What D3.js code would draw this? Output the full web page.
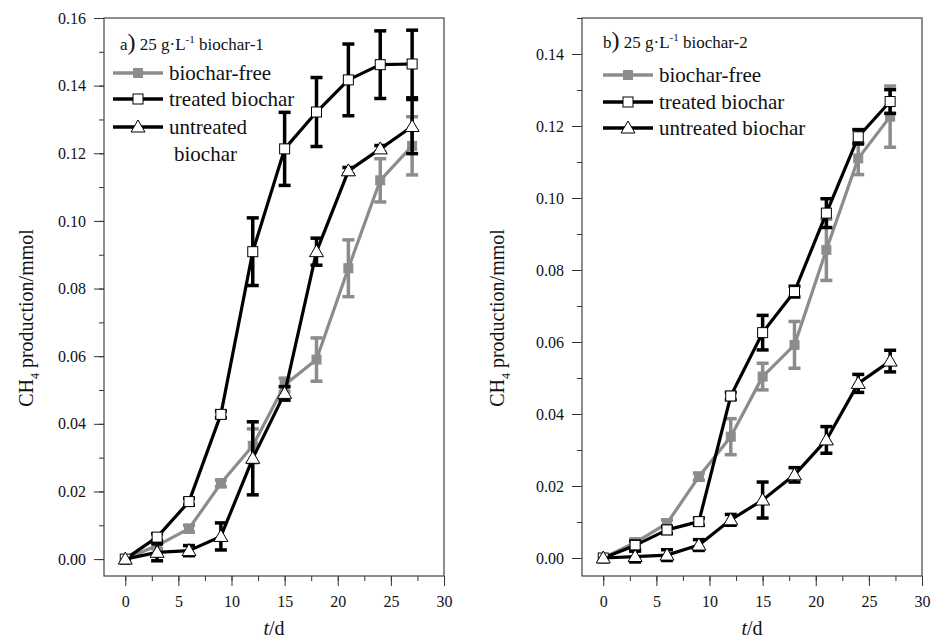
<!DOCTYPE html>
<html>
<head>
<meta charset="utf-8">
<script src="https://cdn.jsdelivr.net/npm/d3@7"></script>
<style>
  body { margin: 0; background: #fff; }
  svg text { font-family: "Liberation Serif", "Times New Roman", serif; fill: #111; }
</style>
</head>
<body>
<div id="chart"></div>
<script>
// sampling days
const days = [0, 3, 6, 9, 12, 15, 18, 21, 24, 27];

// panel a) biochar-1
const aFree = [0, 0.004, 0.009, 0.0224, 0.0335, 0.0515, 0.059, 0.086, 0.112, 0.1222];
const aFreeErr = [0, 0.001, 0.001, 0.001, 0.005, 0.002, 0.0064, 0.0084, 0.0064, 0.0086];
const aTreated = [0, 0.0065, 0.017, 0.0428, 0.0909, 0.1213, 0.1322, 0.1417, 0.1462, 0.1464];
const aTreatedErr = [0, 0.001, 0.001, 0.001, 0.010, 0.0108, 0.0102, 0.0106, 0.010, 0.010];
const aUntreated = [0, 0.002, 0.0025, 0.0067, 0.0298, 0.049, 0.0909, 0.1148, 0.1213, 0.1279];
const aUntreatedErr = [0, 0.0025, 0.0015, 0.004, 0.0108, 0.002, 0.004, 0.001, 0.001, 0.008];

// panel b) biochar-2
const bFree = [0, 0.0043, 0.0096, 0.0226, 0.0337, 0.0504, 0.0592, 0.0856, 0.111, 0.1226];
const bFreeErr = [0, 0.001, 0.001, 0.001, 0.005, 0.0037, 0.0065, 0.0085, 0.0045, 0.0085];
const bTreated = [0, 0.0035, 0.0078, 0.0101, 0.045, 0.0626, 0.074, 0.0958, 0.117, 0.1268];
const bTreatedErr = [0, 0.0012, 0.001, 0.001, 0.001, 0.0048, 0.0015, 0.004, 0.002, 0.0033];
const bUntreated = [0, 0.0004, 0.0008, 0.0036, 0.0106, 0.0161, 0.0231, 0.0328, 0.0485, 0.0547];
const bUntreatedErr = [0, 0.0015, 0.0015, 0.0015, 0.0015, 0.005, 0.002, 0.0037, 0.0025, 0.003];

const seriesNames = ['biochar-free', 'treated biochar', 'untreated biochar'];
const xTicks = [0, 5, 10, 15, 20, 25, 30];
const aYTicks = [0, 0.02, 0.04, 0.06, 0.08, 0.10, 0.12, 0.14, 0.16];
const bYTicks = [0, 0.02, 0.04, 0.06, 0.08, 0.10, 0.12, 0.14];

const grey = '#8c8c8c';
const serif = '"Liberation Serif", "Times New Roman", Times, serif';

const svg = d3.select('#chart').append('svg')
    .attr('width', 933)
    .attr('height', 639)
    .attr('font-family', serif);

function drawPanel(opt) {
    const x = d3.scaleLinear().domain([-2, 30]).range([opt.left, opt.right]);
    const y = d3.scaleLinear().domain([-0.005, opt.yMax]).range([576, 18]);
    const g = svg.append('g');

    // minor ticks
    const xMinor = d3.range(0, 30.01, 2.5);
    const yMinor = d3.range(0, opt.yMax + 0.0001, 0.01);
    g.append('g')
        .attr('transform', `translate(0,576)`)
        .call(d3.axisBottom(x).tickValues(xMinor).tickSize(5).tickFormat(''))
        .call(a => a.select('.domain').remove());
    g.append('g')
        .attr('transform', `translate(${opt.left},0)`)
        .call(d3.axisLeft(y).tickValues(yMinor).tickSize(5).tickFormat(''))
        .call(a => a.select('.domain').remove());

    // major ticks
    const xa = g.append('g')
        .attr('transform', `translate(0,576)`)
        .call(d3.axisBottom(x).tickValues(xTicks).tickSize(10).tickPadding(10));
    xa.select('.domain').remove();
    xa.attr('font-family', serif).attr('font-size', 16);

    const ya = g.append('g')
        .attr('transform', `translate(${opt.left},0)`)
        .call(d3.axisLeft(y).tickValues(opt.yTicks).tickSize(10).tickPadding(8).tickFormat(d3.format('.2f')));
    ya.select('.domain').remove();
    ya.attr('font-family', serif).attr('font-size', 16);
    g.selectAll('.tick line').attr('stroke', '#333');

    // frame
    g.append('rect')
        .attr('x', opt.left).attr('y', 18)
        .attr('width', opt.right - opt.left).attr('height', 558)
        .attr('fill', 'none').attr('stroke', '#444').attr('stroke-width', 1.2);

    // axis titles
    const yl = g.append('text')
        .attr('transform', `translate(${opt.yLabelX},318) rotate(-90)`)
        .attr('text-anchor', 'middle')
        .style('font-size', '20px');
    yl.append('tspan').text('CH');
    yl.append('tspan').attr('dy', 6).style('font-size', '12px').text('4');
    yl.append('tspan').attr('dy', -6).text(' production/mmol');

    const xl = g.append('text')
        .attr('x', (opt.left + opt.right) / 2)
        .attr('y', 635)
        .attr('text-anchor', 'middle')
        .style('font-size', '20px');
    xl.append('tspan').style('font-style', 'italic').text('t');
    xl.append('tspan').text('/d');

    const line = d3.line().x((d, i) => x(days[i])).y(d => y(d));

    const series = [
        { vals: opt.free, err: opt.freeErr, color: grey, marker: 'filled' },
        { vals: opt.treated, err: opt.treatedErr, color: '#000', marker: 'square' },
        { vals: opt.untreated, err: opt.untreatedErr, color: '#000', marker: 'triangle' }
    ];

    series.forEach(s => {
        g.append('path')
            .datum(s.vals)
            .attr('d', line)
            .attr('fill', 'none')
            .attr('stroke', s.color)
            .attr('stroke-width', 3.2)
            .attr('stroke-linejoin', 'round');

        const eb = g.append('g')
            .attr('stroke', s.color)
            .attr('stroke-width', 3.5);
        s.vals.forEach((v, i) => {
            if (!s.err[i]) return;
            const cx = x(days[i]);
            const y0 = y(v - s.err[i]), y1 = y(v + s.err[i]);
            eb.append('line').attr('x1', cx).attr('x2', cx).attr('y1', y0).attr('y2', y1);
            eb.append('line').attr('x1', cx - 6).attr('x2', cx + 6).attr('y1', y0).attr('y2', y0);
            eb.append('line').attr('x1', cx - 6).attr('x2', cx + 6).attr('y1', y1).attr('y2', y1);
        });

        s.vals.forEach((v, i) => drawMarker(g, s.marker, x(days[i]), y(v)));
    });

    // legend
    const title = g.append('text')
        .attr('x', opt.titleX).attr('y', opt.titleY)
        .style('font-size', '17px');
    title.append('tspan').text(opt.tag);
    title.append('tspan').style('font-size', '24px').text(')');
    title.append('tspan').text(' 25 g·L');
    title.append('tspan').attr('dy', -7).style('font-size', '11px').text('-1');
    title.append('tspan').attr('dy', 7).text(' ' + opt.char);

    series.forEach((s, i) => {
        const ly = opt.legY[i];
        g.append('line')
            .attr('x1', opt.legX).attr('x2', opt.legX + 50)
            .attr('y1', ly).attr('y2', ly)
            .attr('stroke', s.color).attr('stroke-width', 3.5);
        drawMarker(g, s.marker, opt.legX + 25, ly);
        const t = g.append('text')
            .attr('x', opt.legX + 56).attr('y', ly + 7)
            .style('font-size', '21px');
        if (opt.wrapLast && i === 2) {
            t.text('untreated');
            g.append('text')
                .attr('x', opt.legX + 61).attr('y', ly + 34)
                .style('font-size', '21px')
                .text('biochar');
        } else {
            t.text(seriesNames[i]);
        }
    });
}

function drawMarker(g, type, cx, cy) {
    if (type === 'filled') {
        g.append('rect')
            .attr('x', cx - 4.5).attr('y', cy - 4.5)
            .attr('width', 9).attr('height', 9)
            .attr('fill', grey).attr('stroke', grey);
    } else if (type === 'square') {
        g.append('rect')
            .attr('x', cx - 5).attr('y', cy - 5)
            .attr('width', 10).attr('height', 10)
            .attr('fill', '#fff').attr('stroke', '#000').attr('stroke-width', 1);
    } else {
        g.append('path')
            .attr('d', `M${cx},${cy - 7}L${cx + 7},${cy + 5}L${cx - 7},${cy + 5}Z`)
            .attr('fill', '#fff').attr('stroke', '#000').attr('stroke-width', 1);
    }
}

drawPanel({
    left: 104, right: 444, yMax: 0.16, yTicks: aYTicks, yLabelX: 33,
    free: aFree, freeErr: aFreeErr,
    treated: aTreated, treatedErr: aTreatedErr,
    untreated: aUntreated, untreatedErr: aUntreatedErr,
    tag: 'a', char: 'biochar-1', titleX: 120, titleY: 50,
    legX: 113, legY: [73, 99, 127], wrapLast: true
});

drawPanel({
    left: 582, right: 922, yMax: 0.15, yTicks: bYTicks, yLabelX: 504,
    free: bFree, freeErr: bFreeErr,
    treated: bTreated, treatedErr: bTreatedErr,
    untreated: bUntreated, untreatedErr: bUntreatedErr,
    tag: 'b', char: 'biochar-2', titleX: 603, titleY: 48,
    legX: 603, legY: [75, 102, 128], wrapLast: false
});
</script>
</body>
</html>
